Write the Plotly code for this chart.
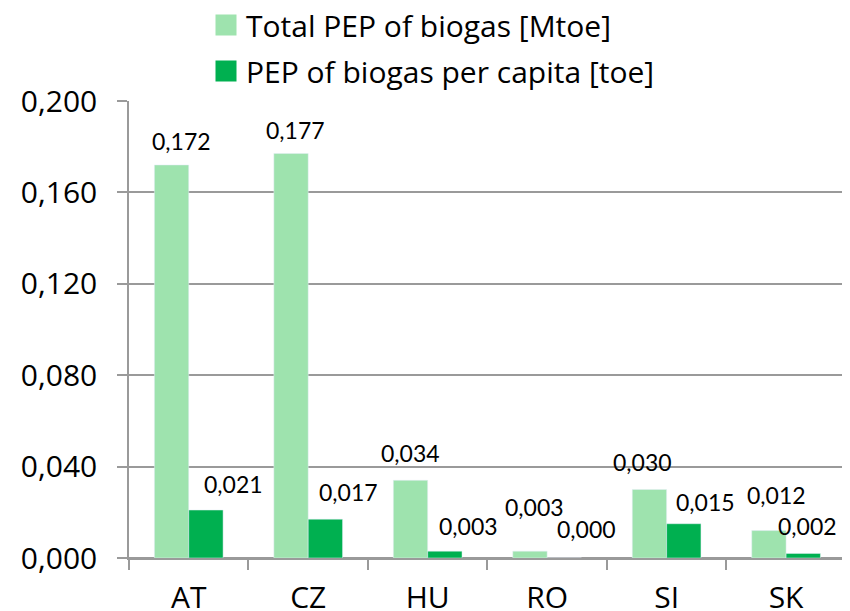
import plotly.graph_objects as go

categories = ["AT", "CZ", "HU", "RO", "SI", "SK"]
total_pep = [0.172, 0.177, 0.034, 0.003, 0.030, 0.012]
per_capita = [0.021, 0.017, 0.003, 0.000, 0.015, 0.002]
series_names = ["Total PEP of biogas [Mtoe]", "PEP of biogas per capita [toe]"]
y_ticks = [0.0, 0.04, 0.08, 0.12, 0.16, 0.2]

light = "#9EE3AE"
dark = "#00B050"
grid = "#9A9A9A"

# label offsets in px (dx, dy) relative to bar centre/top, mimicking the original manual label placement
light_off = [(10, 24), (5, 24), (0, 27), (5, 44), (-7, 27), (8, 36)]
dark_off = [(27, 26), (23, 27), (24, 25), (22, 29), (22, 22), (4, 27)]

W, H = 842, 603  # page body has an 8px margin
M_T, M_B = 93, 53
plot_h = H - M_T - M_B

fig = go.Figure()
fig.add_trace(go.Bar(x=categories, y=total_pep, name=series_names[0],
                     marker_color=light, showlegend=False))
fig.add_trace(go.Bar(x=categories, y=per_capita, name=series_names[1],
                     marker_color=dark, showlegend=False))
# legend-only entries with larger square symbols
for nm, col, grp in [(series_names[0], light, "a"), (series_names[1], dark, "b")]:
    fig.add_trace(go.Scatter(x=[categories[0]], y=[None], mode="markers", name=nm,
                             legendgroup=grp,
                             marker=dict(symbol="square", size=16, color=col,
                                         line=dict(color=col, width=5))))

bargap = 0.425
fmt = lambda v: f"{v:.3f}".replace(".", ",")
bar_px = 17.3
for j, c in enumerate(categories):
    dx, dy = light_off[j]
    fig.add_annotation(x=j, y=total_pep[j], text=fmt(total_pep[j]), showarrow=False,
                       xshift=-bar_px + dx, yshift=dy, yanchor="middle",
                       font=dict(family="Lato", size=23, color="#000000"))
    dx, dy = dark_off[j]
    fig.add_annotation(x=j, y=per_capita[j], text=fmt(per_capita[j]), showarrow=False,
                       xshift=bar_px + dx, yshift=dy, yanchor="middle",
                       font=dict(family="Lato", size=23, color="#000000"))

fig.update_layout(
    width=W, height=H,
    margin=dict(l=121, r=0, t=M_T, b=M_B, autoexpand=False),
    paper_bgcolor="white", plot_bgcolor="white",
    separators=", ",
    barmode="group", bargap=bargap, bargroupgap=0,
    font=dict(family="Open Sans", size=30, color="#000000"),
    legend=dict(xref="container", yref="paper", x=198 / W, y=1 + (M_T + 9) / plot_h,
                xanchor="left", yanchor="top", traceorder="grouped", tracegroupgap=4,
                font=dict(family="Open Sans", size=30), bgcolor="rgba(0,0,0,0)",
                itemsizing="trace"),
    showlegend=True,
)
fig.update_xaxes(type="category", range=[-0.5, 5.535], showline=True, linecolor=grid,
                 linewidth=1.5, ticks="outside", tickson="boundaries", ticklen=10,
                 tickcolor=grid, tickwidth=1.5, showgrid=False,
                 ticklabelstandoff=12,
                 tickfont=dict(family="Open Sans", size=30))
fig.update_yaxes(range=[0, 0.2], tickvals=y_ticks, tickformat=".3f", showline=True,
                 linecolor=grid, linewidth=1.5, ticks="outside", ticklen=10,
                 tickcolor=grid, tickwidth=1.5, showgrid=True, gridcolor=grid,
                 gridwidth=1.5, zeroline=True, zerolinecolor=grid, zerolinewidth=1.5,
                 ticklabelstandoff=14, tickfont=dict(family="Open Sans", size=30))

fig.write_html("out.html")
